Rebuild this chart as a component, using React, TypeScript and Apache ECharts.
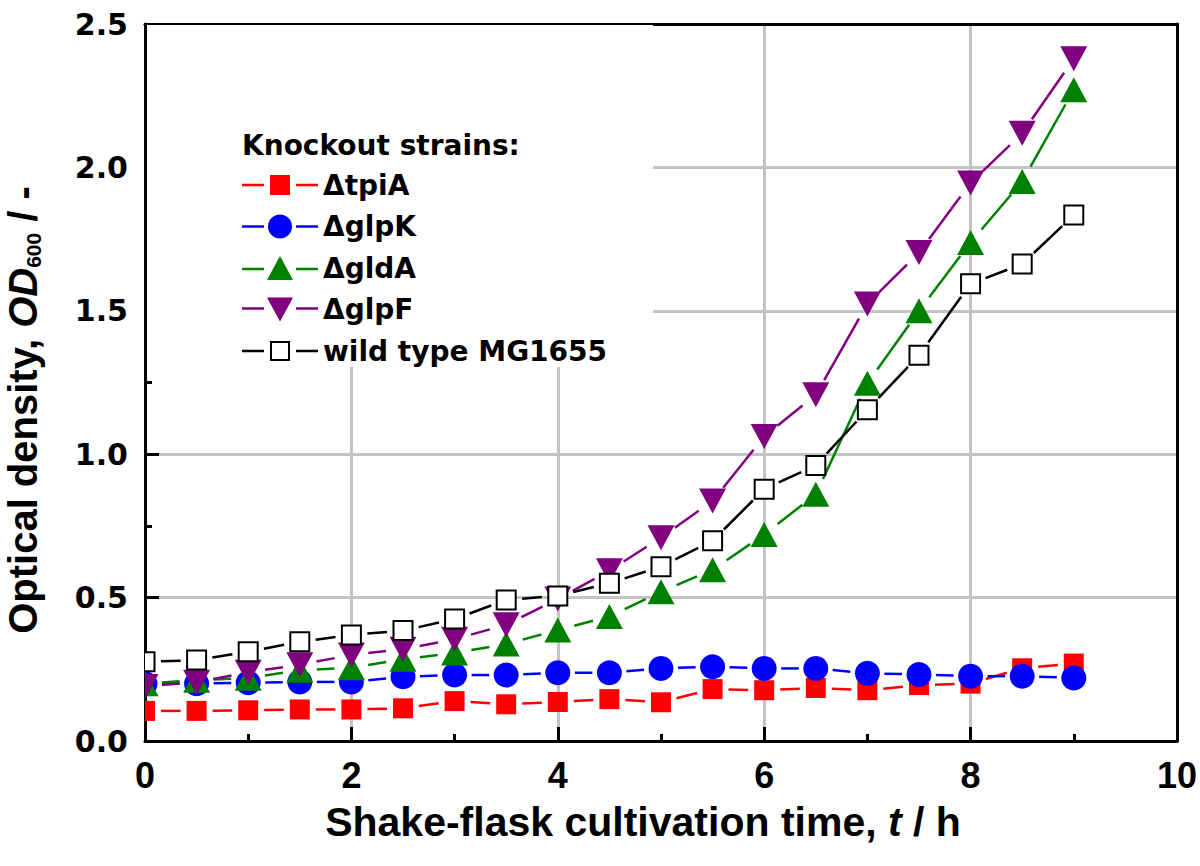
import React, { useEffect, useRef } from 'react';
import * as echarts from 'echarts';

const time = [0, 0.5, 1, 1.5, 2, 2.5, 3, 3.5, 4, 4.5, 5, 5.5, 6, 6.5, 7, 7.5, 8, 8.5, 9];
const tpiA = [0.105, 0.105, 0.107, 0.11, 0.11, 0.114, 0.139, 0.128, 0.136, 0.146, 0.135, 0.181, 0.177, 0.185, 0.177, 0.195, 0.2, 0.254, 0.27];
const glpK = [0.2, 0.2, 0.203, 0.206, 0.206, 0.224, 0.23, 0.23, 0.238, 0.238, 0.253, 0.259, 0.253, 0.253, 0.236, 0.232, 0.226, 0.226, 0.22];
const gldA = [0.2, 0.212, 0.219, 0.247, 0.255, 0.285, 0.307, 0.338, 0.387, 0.434, 0.52, 0.597, 0.72, 0.86, 1.247, 1.5, 1.738, 1.951, 2.271];
const glpF = [0.19, 0.205, 0.24, 0.266, 0.3, 0.32, 0.355, 0.405, 0.495, 0.594, 0.709, 0.837, 1.062, 1.207, 1.524, 1.703, 1.946, 2.119, 2.379];
const wildType = [0.276, 0.282, 0.311, 0.346, 0.37, 0.385, 0.425, 0.492, 0.506, 0.55, 0.608, 0.698, 0.878, 0.961, 1.155, 1.345, 1.594, 1.663, 1.834];

const seriesNames = ['ΔtpiA', 'ΔglpK', 'ΔgldA', 'ΔglpF', 'wild type MG1655'];
const xTicks = { min: 0, max: 10, interval: 2 };
const yTicks = { min: 0, max: 2.5, interval: 0.5 };

const lineL = 'M0,H1h22v2.5h-22z M54,H1h22v2.5h-22z';
const legendLines = (mid: number) => lineL.replace(/H1/g, String(mid - 1.25));
const icons = [
  'path://' + legendLines(10) + ' M28,0h20v20h-20z',
  'path://' + legendLines(12) + ' M26,12A12,12 0 1,0 50,12A12,12 0 1,0 26,12Z',
  'path://' + legendLines(13) + ' M25,24L38,0L51,24Z',
  'path://' + legendLines(11) + ' M25,0L51,0L38,24Z',
  'path://' + legendLines(10) + ' M28,0h20v20h-20z M30,2v16h16v-16z',
];

const styles = [
  { color: '#ff0000', kind: 'square', gap: 16 },
  { color: '#0000ff', kind: 'circle', gap: 17 },
  { color: '#008000', kind: 'up', gap: 17 },
  { color: '#800080', kind: 'down', gap: 17 },
  { color: '#000000', kind: 'open', gap: 16 },
];

function markerShape(kind: string, x: number, y: number, color: string) {
  if (kind === 'square') {
    return { type: 'rect', shape: { x: x - 10, y: y - 10, width: 20, height: 20 }, style: { fill: color } };
  }
  if (kind === 'open') {
    return {
      type: 'rect',
      shape: { x: x - 9.5, y: y - 9.5, width: 19, height: 19 },
      style: { fill: '#ffffff', stroke: color, lineWidth: 2 },
    };
  }
  if (kind === 'circle') {
    return { type: 'circle', shape: { cx: x, cy: y, r: 12.5 }, style: { fill: color } };
  }
  if (kind === 'up') {
    return {
      type: 'polygon',
      shape: { points: [[x - 13.5, y + 12.5], [x, y - 12.5], [x + 13.5, y + 12.5]] },
      style: { fill: color },
    };
  }
  return {
    type: 'polygon',
    shape: { points: [[x - 13.5, y - 12.5], [x + 13.5, y - 12.5], [x, y + 12.5]] },
    style: { fill: color },
  };
}

export default function App() {
  const ref = useRef<HTMLDivElement>(null);
  useEffect(() => {
    if (!ref.current) return;
    const chart = echarts.init(ref.current, null, { renderer: 'svg' });
    const values = [tpiA, glpK, gldA, glpF, wildType];

    const lineSeries = values.map((v, k) => {
      const st = styles[k];
      const segs = time.slice(0, -1).map((t, i) => [t, v[i], time[i + 1], v[i + 1]]);
      return {
        type: 'custom',
        name: seriesNames[k] + ' line',
        data: segs,
        encode: { x: [0, 2], y: [1, 3] },
        clip: true,
        z: 2,
        silent: true,
        renderItem: (params: any, api: any) => {
          const p0 = api.coord([api.value(0), api.value(1)]);
          const p1 = api.coord([api.value(2), api.value(3)]);
          const dx = p1[0] - p0[0];
          const dy = p1[1] - p0[1];
          const len = Math.hypot(dx, dy);
          const g = st.gap;
          if (len <= 2 * g) return null;
          const ux = dx / len;
          const uy = dy / len;
          return {
            type: 'line',
            shape: { x1: p0[0] + ux * g, y1: p0[1] + uy * g, x2: p1[0] - ux * g, y2: p1[1] - uy * g },
            style: { stroke: st.color, lineWidth: 2.5 },
          };
        },
      };
    });

    const markerSeries = values.map((v, k) => {
      const st = styles[k];
      return {
        type: 'custom',
        name: seriesNames[k],
        data: time.map((t, i) => [t, v[i]]),
        encode: { x: 0, y: 1 },
        clip: true,
        z: 3,
        silent: true,
        itemStyle: { color: st.color },
        renderItem: (params: any, api: any) => {
          const p = api.coord([api.value(0), api.value(1)]);
          const cs = params.coordSys;
          const el: any = markerShape(st.kind, p[0], p[1], st.color);
          el.clipPath = { type: 'rect', shape: { x: cs.x, y: cs.y, width: cs.width, height: cs.height } };
          return el;
        },
      };
    });

    const tickFontY = { fontFamily: 'DejaVu Sans', fontWeight: 'bold', fontSize: 30, color: '#000' };
    const tickFontX = { fontFamily: 'Liberation Sans', fontWeight: 'bold', fontSize: 36, lineHeight: 36, color: '#000' };

    chart.setOption({
      animation: false,
      backgroundColor: '#ffffff',
      grid: { left: 145, right: 23, top: 24, bottom: 125, containLabel: false },
      title: {
        text: 'Knockout strains:',
        left: 242,
        top: 131,
        padding: 0,
        z: 10,
        textStyle: { fontFamily: 'DejaVu Sans', fontWeight: 'bold', fontSize: 28, color: '#000', lineHeight: 28 },
      },
      legend: {
        orient: 'vertical',
        left: 147,
        top: 25,
        padding: [146, 46, 2, 95],
        backgroundColor: '#ffffff',
        itemWidth: 76,
        itemHeight: 26,
        itemGap: 13.5,
        selectedMode: false,
        z: 5,
        textStyle: { fontFamily: 'DejaVu Sans', fontWeight: 'bold', fontSize: 28, color: '#000', lineHeight: 28 },
        data: seriesNames.map((n, k) => ({
          name: n,
          icon: icons[k],
          itemStyle: { color: styles[k].color, borderWidth: 0 },
        })),
      },
      xAxis: [
        {
          type: 'value',
          min: xTicks.min,
          max: xTicks.max,
          interval: xTicks.interval,
          axisLine: { show: true, onZero: false, lineStyle: { color: '#000', width: 3 } },
          axisTick: { show: true, inside: true, length: 14, lineStyle: { color: '#000', width: 3 } },
          minorTick: { show: true, splitNumber: 2, length: 7, lineStyle: { color: '#000', width: 3 } },
          splitLine: { show: true, showMinLine: false, showMaxLine: false, lineStyle: { color: '#c4c4c4', width: 3 } },
          axisLabel: { ...tickFontX, margin: 16 },
        },
        {
          type: 'value',
          position: 'top',
          min: xTicks.min,
          max: xTicks.max,
          axisLine: { show: true, onZero: false, lineStyle: { color: '#000', width: 3 } },
          axisTick: { show: false },
          axisLabel: { show: false },
          splitLine: { show: false },
        },
      ],
      yAxis: [
        {
          type: 'value',
          min: yTicks.min,
          max: yTicks.max,
          interval: yTicks.interval,
          axisLine: { show: true, onZero: false, lineStyle: { color: '#000', width: 3 } },
          axisTick: { show: true, inside: true, length: 14, lineStyle: { color: '#000', width: 3 } },
          minorTick: { show: true, splitNumber: 2, length: 7, lineStyle: { color: '#000', width: 3 } },
          splitLine: { show: true, showMinLine: false, showMaxLine: false, lineStyle: { color: '#c4c4c4', width: 3 } },
          axisLabel: { ...tickFontY, margin: 17, formatter: (v: number) => v.toFixed(1) },
        },
        {
          type: 'value',
          position: 'right',
          min: yTicks.min,
          max: yTicks.max,
          axisLine: { show: true, onZero: false, lineStyle: { color: '#000', width: 3 } },
          axisTick: { show: false },
          axisLabel: { show: false },
          splitLine: { show: false },
        },
      ],
      graphic: [
        {
          type: 'text',
          x: 23,
          y: 410,
          rotation: Math.PI / 2,
          style: {
            text: '{a|Optical density, }{b|OD}{c|600}{a| / -}',
            align: 'center',
            verticalAlign: 'middle',
            rich: {
              a: { fontFamily: 'Liberation Sans', fontWeight: 'bold', fontSize: 40, fill: '#000' },
              b: { fontFamily: 'Liberation Sans', fontWeight: 'bold', fontStyle: 'italic', fontSize: 40, fill: '#000' },
              c: { fontFamily: 'Liberation Sans', fontWeight: 'bold', fontSize: 21, fill: '#000', padding: [20, 0, 0, 0] },
            },
          },
        },
        {
          type: 'text',
          x: 643,
          y: 822,
          style: {
            text: '{a|Shake-flask cultivation time, }{b|t}{a| / h}',
            align: 'center',
            verticalAlign: 'middle',
            rich: {
              a: { fontFamily: 'Liberation Sans', fontWeight: 'bold', fontSize: 41, fill: '#000' },
              b: { fontFamily: 'Liberation Sans', fontWeight: 'bold', fontStyle: 'italic', fontSize: 41, fill: '#000' },
            },
          },
        },
      ],
      series: [...lineSeries, ...markerSeries],
    });
    return () => chart.dispose();
  }, []);
  return <div ref={ref} style={{ position: 'fixed', left: 0, top: 0, width: 1200, height: 866, background: '#fff' }} />;
}
